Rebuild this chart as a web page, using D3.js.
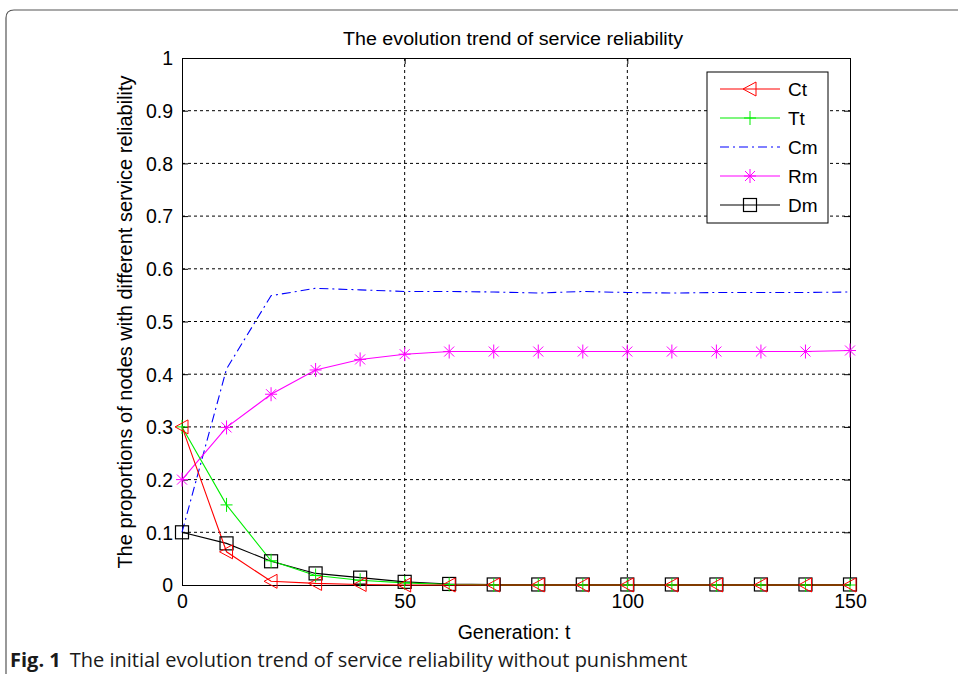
<!DOCTYPE html>
<html><head><meta charset="utf-8">
<script src="https://cdn.jsdelivr.net/npm/d3@7"></script>
<style>body{margin:0;background:#fff}svg{display:block}</style>
</head><body>
<script>
const generations = [0,10,20,30,40,50,60,70,80,90,100,110,120,130,140,150];
const Ct = [0.300,0.063,0.007,0.003,0.001,0.000,0,0,0,0,0,0,0,0,0,0];
const Tt = [0.300,0.152,0.046,0.018,0.009,0.004,0.001,0,0,0,0,0,0,0,0,0];
const Cm = [0.100,0.410,0.549,0.563,0.560,0.557,0.557,0.556,0.554,0.557,0.555,0.554,0.555,0.555,0.555,0.556];
const Rm = [0.200,0.299,0.362,0.408,0.428,0.438,0.443,0.443,0.443,0.443,0.443,0.443,0.443,0.443,0.443,0.445];
const Dm = [0.100,0.079,0.045,0.022,0.014,0.006,0.002,0.001,0.001,0.001,0.001,0.001,0.001,0.001,0.001,0.001];
const xTicks = [0,50,100,150];
const yTicks = [0,0.1,0.2,0.3,0.4,0.5,0.6,0.7,0.8,0.9,1];
const seriesNames = ["Ct","Tt","Cm","Rm","Dm"];
const seriesColors = {Ct:"#ff0000",Tt:"#00ee00",Cm:"#0000ff",Rm:"#ff00ff",Dm:"#000000"};
const seriesData = {Ct,Tt,Cm,Rm,Dm};

const W=958,H=674;
const svg=d3.select("body").append("svg").attr("width",W).attr("height",H);
// outer frame
svg.append("path").attr("d","M6,674 L6,18 Q6,10 14,10 L960,10").attr("fill","none").attr("stroke","#555").attr("stroke-width",1.2);

const L=182,R=850,T=58,B=585;
const x=d3.scaleLinear().domain([0,150]).range([L,R]);
const y=d3.scaleLinear().domain([0,1]).range([B,T]);
const font="'Liberation Sans', Arial, sans-serif";

// grid
const g=svg.append("g");
g.selectAll(".gx").data(xTicks.slice(1,-1)).enter().append("line")
 .attr("x1",d=>x(d)).attr("x2",d=>x(d)).attr("y1",T).attr("y2",B)
 .attr("stroke","#000").attr("stroke-dasharray","3,3").attr("stroke-width",1);
g.selectAll(".gy").data(yTicks.slice(1,-1)).enter().append("line")
 .attr("x1",L).attr("x2",R).attr("y1",d=>y(d)).attr("y2",d=>y(d))
 .attr("stroke","#000").attr("stroke-dasharray","3,3").attr("stroke-width",1);

// axes
const xa=svg.append("g").attr("transform",`translate(0,${B})`).call(d3.axisBottom(x).tickValues(xTicks).tickSize(-6).tickSizeOuter(0).tickPadding(9).tickFormat(d3.format("d")));
const xa2=svg.append("g").attr("transform",`translate(0,${T})`).call(d3.axisTop(x).tickValues(xTicks).tickSize(-6).tickSizeOuter(0).tickFormat(""));
const ya=svg.append("g").attr("transform",`translate(${L},0)`).call(d3.axisLeft(y).tickValues(yTicks).tickSize(-6).tickSizeOuter(0).tickPadding(9).tickFormat(d=>d===0?"0":d===1?"1":d3.format(".1f")(d)));
const ya2=svg.append("g").attr("transform",`translate(${R},0)`).call(d3.axisRight(y).tickValues(yTicks).tickSize(-6).tickSizeOuter(0).tickFormat(""));
[xa,xa2,ya,ya2].forEach(a=>{a.selectAll("path").attr("stroke","#000");a.selectAll("line").attr("stroke","#000");a.selectAll("text").attr("font-family",font).attr("font-size",19.5).attr("fill","#000");});
ya.selectAll("text").attr("dy","0.35em");

// lines
const line=d3.line().x((d,i)=>x(generations[i])).y(d=>y(d));
function marker(sel,name,cx,cy){
  const c=seriesColors[name];
  if(name==="Ct"){
    sel.append("path").attr("d",`M${cx-7},${cy} L${cx+6},${cy-7} L${cx+6},${cy+7} Z`).attr("fill","none").attr("stroke",c).attr("stroke-width",1);
  } else if(name==="Tt"){
    sel.append("path").attr("d",`M${cx-6},${cy} L${cx+6},${cy} M${cx},${cy-7} L${cx},${cy+7}`).attr("stroke",c).attr("stroke-width",1);
  } else if(name==="Rm"){
    sel.append("path").attr("d",`M${cx-6},${cy} L${cx+6},${cy} M${cx},${cy-7} L${cx},${cy+7} M${cx-5},${cy-5} L${cx+5},${cy+5} M${cx-5},${cy+5} L${cx+5},${cy-5}`).attr("stroke",c).attr("stroke-width",1);
  } else if(name==="Dm"){
    sel.append("rect").attr("x",cx-6.5).attr("y",cy-6.5).attr("width",13).attr("height",13).attr("fill","none").attr("stroke",c).attr("stroke-width",1.2);
  }
}
const order=["Cm","Rm","Dm","Tt","Ct"];
order.forEach(n=>{
  const p=svg.append("path").datum(seriesData[n]).attr("d",line).attr("fill","none").attr("stroke",seriesColors[n]).attr("stroke-width",1.1);
  if(n==="Cm") p.attr("stroke-dasharray","9,4,2,4");
});
["Dm","Rm","Tt","Ct"].forEach(n=>{
  const mg=svg.append("g");
  seriesData[n].forEach((v,i)=>marker(mg,n,x(generations[i]),y(v)));
});

// legend
const lg=svg.append("g");
lg.append("rect").attr("x",707).attr("y",72).attr("width",121).attr("height",151).attr("fill","#fff").attr("stroke","#000").attr("stroke-width",1);
seriesNames.forEach((n,i)=>{
  const ly=89+i*29;
  const ln=lg.append("line").attr("x1",720).attr("x2",780).attr("y1",ly).attr("y2",ly).attr("stroke",seriesColors[n]).attr("stroke-width",1.1);
  if(n==="Cm") ln.attr("stroke-dasharray","9,4,2,4");
  marker(lg,n,750,ly);
  lg.append("text").attr("x",788).attr("y",ly).attr("dy","0.36em").attr("font-family",font).attr("font-size",19).text(n);
});

// titles
svg.append("text").attr("x",513).attr("y",45).attr("text-anchor","middle").attr("font-family",font).attr("font-size",18).attr("textLength",340).attr("lengthAdjust","spacingAndGlyphs").text("The evolution trend of service reliability");
svg.append("text").attr("x",514).attr("y",639).attr("text-anchor","middle").attr("font-family",font).attr("font-size",19.5).text("Generation: t");
svg.append("text").attr("transform","translate(132,322) rotate(-90)").attr("text-anchor","middle").attr("font-family",font).attr("font-size",20).text("The proportions of nodes with different service reliability");

// caption
const cap=svg.append("text").attr("x",10).attr("y",667).attr("font-family","'Open Sans','Noto Sans',sans-serif").attr("font-size",20).attr("fill","#1a1a1a");
cap.append("tspan").attr("font-weight","bold").text("Fig. 1");
cap.append("tspan").attr("dx",9).text("The initial evolution trend of service reliability without punishment");
</script>
</body></html>
